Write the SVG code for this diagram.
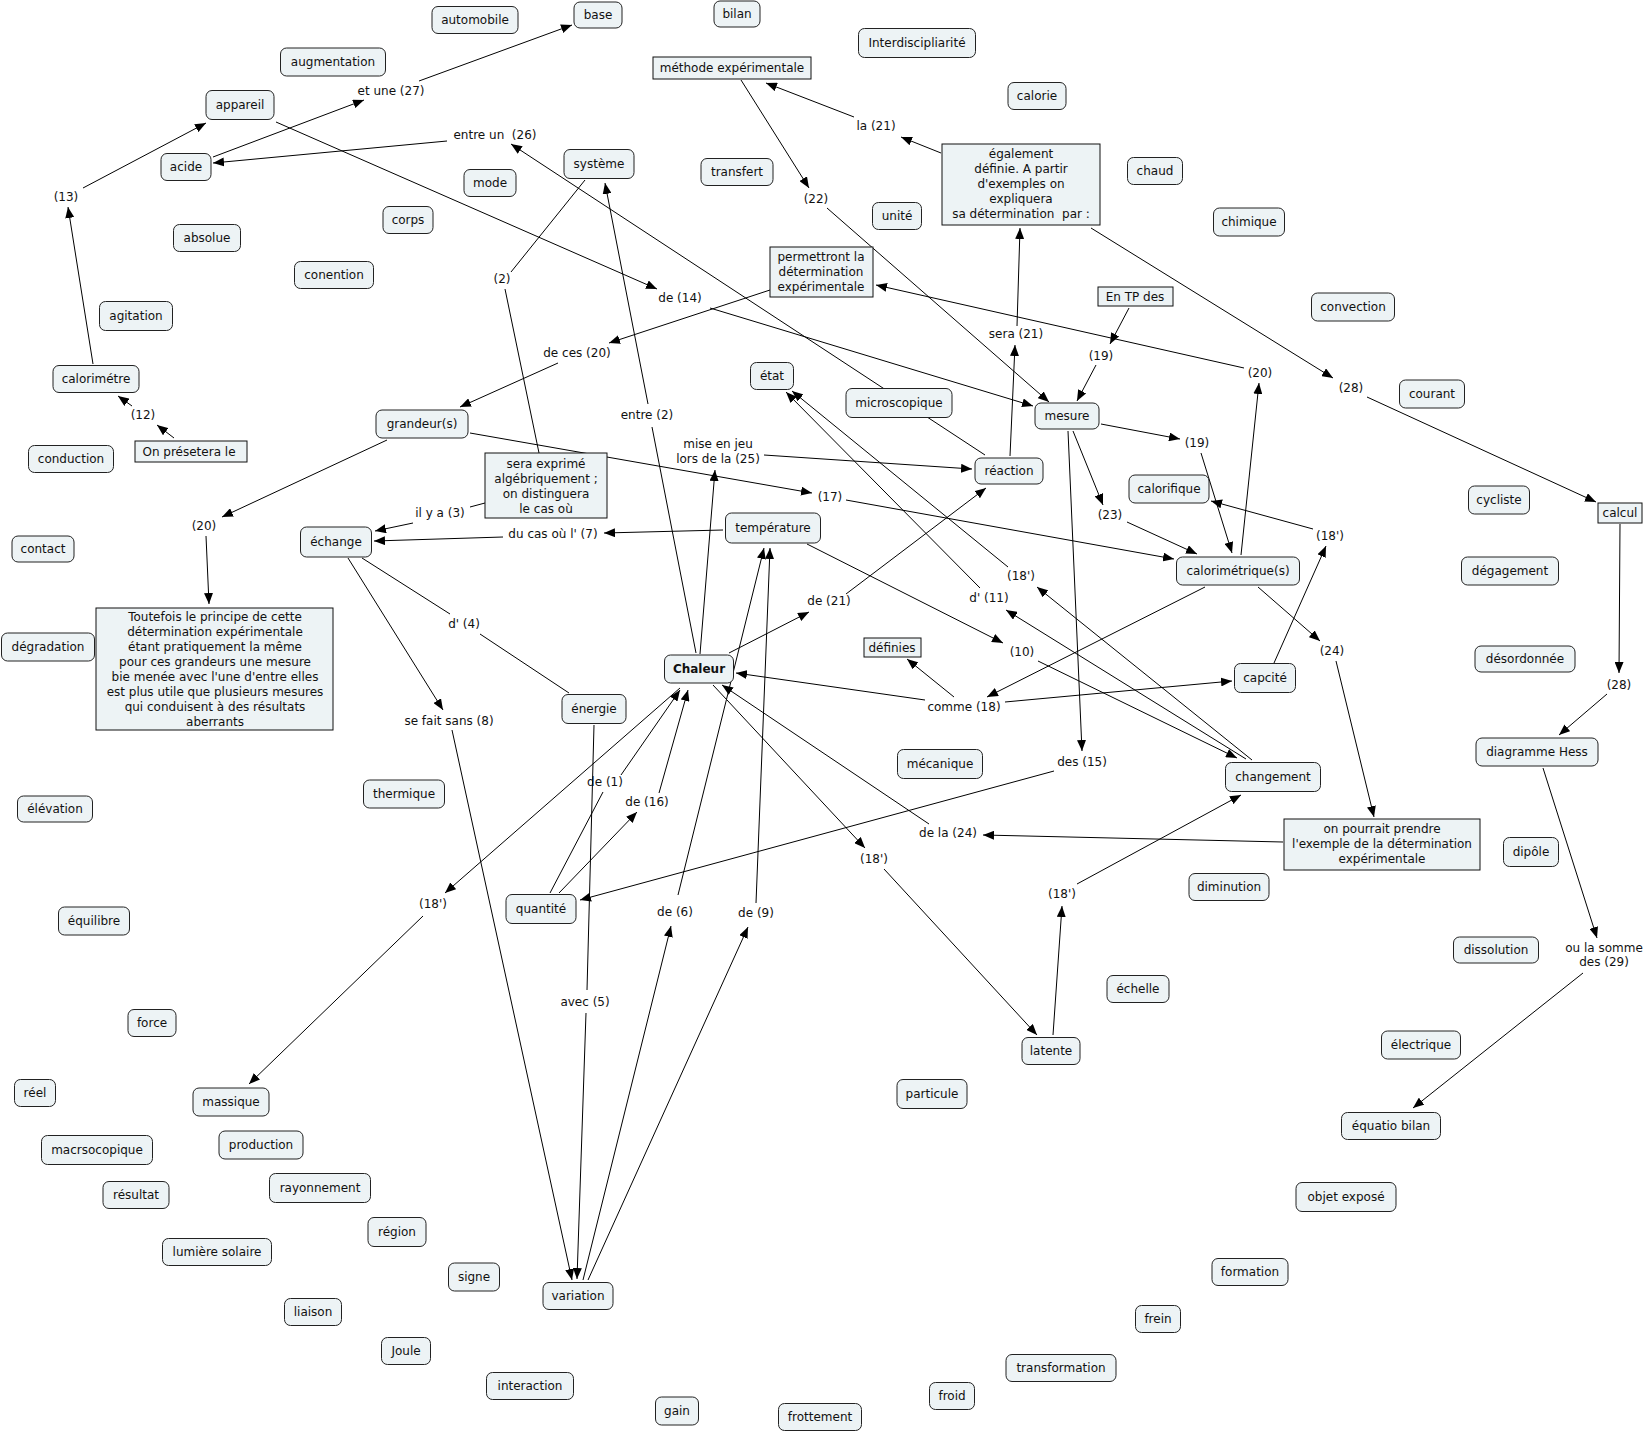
<svg xmlns="http://www.w3.org/2000/svg" width="1647" height="1433" viewBox="0 0 1647 1433">
<style>
text{font-family:"DejaVu Sans","Verdana",sans-serif;font-size:12px;fill:#111;text-anchor:middle;white-space:pre}
.c rect{fill:#edf3f5;stroke:#222;stroke-width:1}
.r rect{fill:#edf3f5;stroke:#111;stroke-width:1}
#edges line{stroke:#000;stroke-width:1}
.b{font-weight:bold}
</style>
<defs>
<marker id="a" markerWidth="11" markerHeight="9" refX="11" refY="4.5" orient="auto" markerUnits="userSpaceOnUse"><path d="M0,0 L11,4.5 L0,9 z" fill="#000"/></marker>
</defs>
<rect width="1647" height="1433" fill="#fff"/>
<g id="edges">
<line x1="213" y1="157" x2="364" y2="100" marker-end="url(#a)"/>
<line x1="419" y1="81" x2="572" y2="25" marker-end="url(#a)"/>
<line x1="93" y1="364" x2="68" y2="207" marker-end="url(#a)"/>
<line x1="83" y1="188" x2="206" y2="123" marker-end="url(#a)"/>
<line x1="276" y1="122" x2="657" y2="289" marker-end="url(#a)"/>
<line x1="710" y1="308" x2="1033" y2="406" marker-end="url(#a)"/>
<line x1="447" y1="141" x2="213" y2="163" marker-end="url(#a)"/>
<line x1="985" y1="455" x2="511" y2="144" marker-end="url(#a)"/>
<line x1="585" y1="180" x2="511" y2="272"/>
<line x1="505" y1="289" x2="539" y2="453"/>
<line x1="696" y1="653" x2="652" y2="427"/>
<line x1="648" y1="404" x2="605" y2="183" marker-end="url(#a)"/>
<line x1="558" y1="363" x2="460" y2="407" marker-end="url(#a)"/>
<line x1="770" y1="290" x2="609" y2="343" marker-end="url(#a)"/>
<line x1="174" y1="438" x2="157" y2="425" marker-end="url(#a)"/>
<line x1="132" y1="406" x2="118" y2="396" marker-end="url(#a)"/>
<line x1="470" y1="433" x2="812" y2="493" marker-end="url(#a)"/>
<line x1="846" y1="500" x2="1174" y2="559" marker-end="url(#a)"/>
<line x1="387" y1="440" x2="222" y2="517" marker-end="url(#a)"/>
<line x1="206" y1="536" x2="209" y2="604" marker-end="url(#a)"/>
<line x1="485" y1="503" x2="470" y2="507"/>
<line x1="413" y1="523" x2="375" y2="531" marker-end="url(#a)"/>
<line x1="723" y1="530" x2="604" y2="533" marker-end="url(#a)"/>
<line x1="503" y1="537" x2="374" y2="541" marker-end="url(#a)"/>
<line x1="362" y1="558" x2="450" y2="614"/>
<line x1="480" y1="634" x2="569" y2="693"/>
<line x1="348" y1="558" x2="443" y2="710" marker-end="url(#a)"/>
<line x1="452" y1="730" x2="572" y2="1280" marker-end="url(#a)"/>
<line x1="594" y1="725" x2="587" y2="990"/>
<line x1="586" y1="1013" x2="577" y2="1279" marker-end="url(#a)"/>
<line x1="700" y1="654" x2="715" y2="470" marker-end="url(#a)"/>
<line x1="764" y1="455" x2="972" y2="469" marker-end="url(#a)"/>
<line x1="729" y1="653" x2="809" y2="612" marker-end="url(#a)"/>
<line x1="846" y1="594" x2="986" y2="488" marker-end="url(#a)"/>
<line x1="1010" y1="456" x2="1015" y2="345" marker-end="url(#a)"/>
<line x1="1017" y1="326" x2="1020" y2="228" marker-end="url(#a)"/>
<line x1="941" y1="153" x2="901" y2="137" marker-end="url(#a)"/>
<line x1="854" y1="117" x2="766" y2="83" marker-end="url(#a)"/>
<line x1="741" y1="80" x2="809" y2="188" marker-end="url(#a)"/>
<line x1="827" y1="208" x2="1049" y2="402" marker-end="url(#a)"/>
<line x1="1091" y1="228" x2="1333" y2="378" marker-end="url(#a)"/>
<line x1="1367" y1="397" x2="1596" y2="502" marker-end="url(#a)"/>
<line x1="1620" y1="524" x2="1619" y2="673" marker-end="url(#a)"/>
<line x1="1607" y1="694" x2="1559" y2="735" marker-end="url(#a)"/>
<line x1="1543" y1="768" x2="1597" y2="938" marker-end="url(#a)"/>
<line x1="1583" y1="973" x2="1413" y2="1108" marker-end="url(#a)"/>
<line x1="1244" y1="368" x2="876" y2="285" marker-end="url(#a)"/>
<line x1="1241" y1="555" x2="1259" y2="383" marker-end="url(#a)"/>
<line x1="1129" y1="308" x2="1110" y2="344" marker-end="url(#a)"/>
<line x1="1096" y1="365" x2="1077" y2="401" marker-end="url(#a)"/>
<line x1="1101" y1="424" x2="1180" y2="439" marker-end="url(#a)"/>
<line x1="1201" y1="453" x2="1232" y2="553" marker-end="url(#a)"/>
<line x1="1073" y1="431" x2="1103" y2="505" marker-end="url(#a)"/>
<line x1="1127" y1="522" x2="1197" y2="554" marker-end="url(#a)"/>
<line x1="1068" y1="431" x2="1082" y2="751" marker-end="url(#a)"/>
<line x1="1054" y1="771" x2="580" y2="900" marker-end="url(#a)"/>
<line x1="1313" y1="529" x2="1211" y2="501" marker-end="url(#a)"/>
<line x1="1274" y1="663" x2="1326" y2="546" marker-end="url(#a)"/>
<line x1="1258" y1="587" x2="1320" y2="641" marker-end="url(#a)"/>
<line x1="1336" y1="661" x2="1374" y2="817" marker-end="url(#a)"/>
<line x1="1283" y1="842" x2="983" y2="835" marker-end="url(#a)"/>
<line x1="929" y1="824" x2="722" y2="685" marker-end="url(#a)"/>
<line x1="1205" y1="587" x2="987" y2="697" marker-end="url(#a)"/>
<line x1="1005" y1="702" x2="1232" y2="681" marker-end="url(#a)"/>
<line x1="954" y1="697" x2="907" y2="659" marker-end="url(#a)"/>
<line x1="925" y1="700" x2="736" y2="673" marker-end="url(#a)"/>
<line x1="807" y1="544" x2="1003" y2="643" marker-end="url(#a)"/>
<line x1="1038" y1="661" x2="1237" y2="758" marker-end="url(#a)"/>
<line x1="1246" y1="759" x2="1006" y2="610" marker-end="url(#a)"/>
<line x1="980" y1="588" x2="786" y2="392" marker-end="url(#a)"/>
<line x1="1252" y1="760" x2="1037" y2="587" marker-end="url(#a)"/>
<line x1="1008" y1="567" x2="792" y2="391" marker-end="url(#a)"/>
<line x1="713" y1="685" x2="865" y2="848" marker-end="url(#a)"/>
<line x1="884" y1="869" x2="1037" y2="1035" marker-end="url(#a)"/>
<line x1="1053" y1="1035" x2="1062" y2="906" marker-end="url(#a)"/>
<line x1="1077" y1="884" x2="1241" y2="795" marker-end="url(#a)"/>
<line x1="680" y1="688" x2="445" y2="893" marker-end="url(#a)"/>
<line x1="423" y1="916" x2="249" y2="1084" marker-end="url(#a)"/>
<line x1="550" y1="893" x2="603" y2="792"/>
<line x1="621" y1="775" x2="680" y2="690" marker-end="url(#a)"/>
<line x1="559" y1="893" x2="637" y2="812" marker-end="url(#a)"/>
<line x1="659" y1="793" x2="688" y2="690" marker-end="url(#a)"/>
<line x1="583" y1="1280" x2="671" y2="926" marker-end="url(#a)"/>
<line x1="678" y1="895" x2="764" y2="548" marker-end="url(#a)"/>
<line x1="588" y1="1280" x2="748" y2="927" marker-end="url(#a)"/>
<line x1="756" y1="903" x2="770" y2="548" marker-end="url(#a)"/>
</g>
<g id="labels">
<text x="391" y="95">et une (27)</text>
<text x="495" y="139">entre un  (26)</text>
<text x="66" y="201">(13)</text>
<text x="143" y="419">(12)</text>
<text x="502" y="283">(2)</text>
<text x="577" y="357">de ces (20)</text>
<text x="647" y="419">entre (2)</text>
<text x="876" y="130">la (21)</text>
<text x="816" y="203">(22)</text>
<text x="680" y="302">de (14)</text>
<text x="1016" y="338">sera (21)</text>
<text x="1101" y="360">(19)</text>
<text x="1197" y="447">(19)</text>
<text x="718" y="448">mise en jeu</text>
<text x="718" y="463">lors de la (25)</text>
<text x="1260" y="377">(20)</text>
<text x="1351" y="392">(28)</text>
<text x="830" y="501">(17)</text>
<text x="440" y="517">il y a (3)</text>
<text x="553" y="538">du cas où l' (7)</text>
<text x="1110" y="519">(23)</text>
<text x="1330" y="540">(18')</text>
<text x="1021" y="580">(18')</text>
<text x="989" y="602">d' (11)</text>
<text x="829" y="605">de (21)</text>
<text x="464" y="628">d' (4)</text>
<text x="1022" y="656">(10)</text>
<text x="1332" y="655">(24)</text>
<text x="1619" y="689">(28)</text>
<text x="964" y="711">comme (18)</text>
<text x="449" y="725">se fait sans (8)</text>
<text x="1082" y="766">des (15)</text>
<text x="605" y="786">de (1)</text>
<text x="647" y="806">de (16)</text>
<text x="948" y="837">de la (24)</text>
<text x="874" y="863">(18')</text>
<text x="1062" y="898">(18')</text>
<text x="433" y="908">(18')</text>
<text x="675" y="916">de (6)</text>
<text x="756" y="917">de (9)</text>
<text x="585" y="1006">avec (5)</text>
<text x="1604" y="952">ou la somme</text>
<text x="1604" y="966">des (29)</text>
<text x="204" y="530">(20)</text>
</g>
<g id="n-methode" class="r"><rect x="653" y="57" width="158" height="22"/><text x="732" y="72">méthode expérimentale</text></g>
<g id="n-egalement" class="r"><rect x="942" y="144" width="158" height="81"/><text x="1021" y="158">également</text><text x="1021" y="173">définie. A partir</text><text x="1021" y="188">d'exemples on</text><text x="1021" y="203">expliquera</text><text x="1021" y="218">sa détermination  par :</text></g>
<g id="n-permettront" class="r"><rect x="770" y="247" width="103" height="50"/><text x="821" y="261">permettront la</text><text x="821" y="276">détermination</text><text x="821" y="291">expérimentale</text></g>
<g id="n-entp" class="r"><rect x="1098" y="287" width="75" height="19"/><text x="1135" y="301">En TP des</text></g>
<g id="n-onpresetera" class="r"><rect x="135" y="441" width="112" height="21"/><text x="189" y="456">On présetera le</text></g>
<g id="n-sera" class="r"><rect x="485" y="453" width="122" height="65"/><text x="546" y="468">sera exprimé</text><text x="546" y="483">algébriquement ;</text><text x="546" y="498">on distinguera</text><text x="546" y="513">le cas où</text></g>
<g id="n-toutefois" class="r"><rect x="96" y="608" width="237" height="122"/><text x="215" y="621">Toutefois le principe de cette</text><text x="215" y="636">détermination expérimentale</text><text x="215" y="651">étant pratiquement la même</text><text x="215" y="666">pour ces grandeurs une mesure</text><text x="215" y="681">bie menée avec l'une d'entre elles</text><text x="215" y="696">est plus utile que plusieurs mesures</text><text x="215" y="711">qui conduisent à des résultats</text><text x="215" y="726">aberrants</text></g>
<g id="n-definies" class="r"><rect x="864" y="638" width="57" height="19"/><text x="892" y="652">définies</text></g>
<g id="n-calcul" class="r"><rect x="1598" y="503" width="44" height="20"/><text x="1620" y="517">calcul</text></g>
<g id="n-onpourrait" class="r"><rect x="1284" y="819" width="196" height="51"/><text x="1382" y="833">on pourrait prendre</text><text x="1382" y="848">l'exemple de la détermination</text><text x="1382" y="863">expérimentale</text></g>
<g id="n-automobile" class="c"><rect x="432" y="6.5" width="86" height="27" rx="6"/><text x="475" y="24">automobile</text></g>
<g id="n-base" class="c"><rect x="574" y="2" width="48" height="26" rx="6"/><text x="598" y="19">base</text></g>
<g id="n-bilan" class="c"><rect x="714" y="1" width="46" height="26" rx="6"/><text x="737" y="18">bilan</text></g>
<g id="n-augmentation" class="c"><rect x="280.5" y="48" width="105" height="28" rx="6"/><text x="333" y="66">augmentation</text></g>
<g id="n-interdisc" class="c"><rect x="858.5" y="28.5" width="117" height="29" rx="6"/><text x="917" y="47">Interdiscipliarité</text></g>
<g id="n-appareil" class="c"><rect x="206" y="90.5" width="68" height="29" rx="6"/><text x="240" y="109">appareil</text></g>
<g id="n-calorie" class="c"><rect x="1008" y="82.5" width="58" height="27" rx="6"/><text x="1037" y="100">calorie</text></g>
<g id="n-acide" class="c"><rect x="161" y="153.5" width="50" height="27" rx="6"/><text x="186" y="171">acide</text></g>
<g id="n-systeme" class="c"><rect x="564" y="149.5" width="70" height="29" rx="6"/><text x="599" y="168">système</text></g>
<g id="n-transfert" class="c"><rect x="701" y="158.5" width="72" height="27" rx="6"/><text x="737" y="176">transfert</text></g>
<g id="n-chaud" class="c"><rect x="1127.5" y="157.5" width="55" height="27" rx="6"/><text x="1155" y="175">chaud</text></g>
<g id="n-mode" class="c"><rect x="464" y="169.5" width="52" height="27" rx="6"/><text x="490" y="187">mode</text></g>
<g id="n-corps" class="c"><rect x="383" y="206.5" width="50" height="27" rx="6"/><text x="408" y="224">corps</text></g>
<g id="n-unite" class="c"><rect x="872.5" y="202.5" width="49" height="27" rx="6"/><text x="897" y="220">unité</text></g>
<g id="n-chimique" class="c"><rect x="1213.5" y="208" width="71" height="28" rx="6"/><text x="1249" y="226">chimique</text></g>
<g id="n-absolue" class="c"><rect x="173.5" y="224.5" width="67" height="27" rx="6"/><text x="207" y="242">absolue</text></g>
<g id="n-conention" class="c"><rect x="294.5" y="261.5" width="79" height="27" rx="6"/><text x="334" y="279">conention</text></g>
<g id="n-convection" class="c"><rect x="1311.5" y="293" width="83" height="28" rx="6"/><text x="1353" y="311">convection</text></g>
<g id="n-agitation" class="c"><rect x="99.5" y="301.5" width="73" height="29" rx="6"/><text x="136" y="320">agitation</text></g>
<g id="n-etat" class="c"><rect x="750.5" y="362.5" width="43" height="27" rx="6"/><text x="772" y="380">état</text></g>
<g id="n-calorimetre" class="c"><rect x="53" y="365.5" width="86" height="27" rx="6"/><text x="96" y="383">calorimétre</text></g>
<g id="n-microscopique" class="c"><rect x="846" y="388.5" width="106" height="29" rx="6"/><text x="899" y="407">microscopique</text></g>
<g id="n-courant" class="c"><rect x="1399.5" y="380" width="65" height="28" rx="6"/><text x="1432" y="398">courant</text></g>
<g id="n-mesure" class="c"><rect x="1035" y="403" width="64" height="26" rx="6"/><text x="1067" y="420">mesure</text></g>
<g id="n-grandeurs" class="c"><rect x="376" y="410" width="92" height="28" rx="6"/><text x="422" y="428">grandeur(s)</text></g>
<g id="n-conduction" class="c"><rect x="28.5" y="445.5" width="85" height="27" rx="6"/><text x="71" y="463">conduction</text></g>
<g id="n-reaction" class="c"><rect x="975" y="458" width="68" height="26" rx="6"/><text x="1009" y="475">réaction</text></g>
<g id="n-calorifique" class="c"><rect x="1129" y="475" width="80" height="28" rx="6"/><text x="1169" y="493">calorifique</text></g>
<g id="n-cycliste" class="c"><rect x="1468.5" y="486" width="61" height="28" rx="6"/><text x="1499" y="504">cycliste</text></g>
<g id="n-temperature" class="c"><rect x="725.5" y="513" width="95" height="30" rx="6"/><text x="773" y="532">température</text></g>
<g id="n-echange" class="c"><rect x="300.5" y="527" width="71" height="30" rx="6"/><text x="336" y="546">échange</text></g>
<g id="n-contact" class="c"><rect x="12" y="536" width="62" height="26" rx="6"/><text x="43" y="553">contact</text></g>
<g id="n-calorimetriques" class="c"><rect x="1176.5" y="557" width="123" height="28" rx="6"/><text x="1238" y="575">calorimétrique(s)</text></g>
<g id="n-degagement" class="c"><rect x="1461.5" y="557" width="97" height="28" rx="6"/><text x="1510" y="575">dégagement</text></g>
<g id="n-degradation" class="c"><rect x="1.5" y="633" width="93" height="28" rx="6"/><text x="48" y="651">dégradation</text></g>
<g id="n-desordonnee" class="c"><rect x="1475" y="646" width="100" height="26" rx="6"/><text x="1525" y="663">désordonnée</text></g>
<g id="n-chaleur" class="c"><rect x="664.5" y="655" width="69" height="28" rx="6"/><text class="b" x="699" y="673">Chaleur</text></g>
<g id="n-capcite" class="c"><rect x="1234.5" y="663.5" width="61" height="29" rx="6"/><text x="1265" y="682">capcité</text></g>
<g id="n-energie" class="c"><rect x="562" y="694.5" width="64" height="29" rx="6"/><text x="594" y="713">énergie</text></g>
<g id="n-hess" class="c"><rect x="1476" y="738" width="122" height="28" rx="6"/><text x="1537" y="756">diagramme Hess</text></g>
<g id="n-mecanique" class="c"><rect x="897.5" y="749.5" width="85" height="29" rx="6"/><text x="940" y="768">mécanique</text></g>
<g id="n-changement" class="c"><rect x="1225.5" y="762.5" width="95" height="29" rx="6"/><text x="1273" y="781">changement</text></g>
<g id="n-thermique" class="c"><rect x="363.5" y="780" width="81" height="28" rx="6"/><text x="404" y="798">thermique</text></g>
<g id="n-elevation" class="c"><rect x="17.5" y="796" width="75" height="26" rx="6"/><text x="55" y="813">élévation</text></g>
<g id="n-dipole" class="c"><rect x="1503.5" y="837.5" width="55" height="29" rx="6"/><text x="1531" y="856">dipôle</text></g>
<g id="n-diminution" class="c"><rect x="1189" y="873.5" width="80" height="27" rx="6"/><text x="1229" y="891">diminution</text></g>
<g id="n-quantite" class="c"><rect x="506" y="894.5" width="70" height="29" rx="6"/><text x="541" y="913">quantité</text></g>
<g id="n-equilibre" class="c"><rect x="58.5" y="907" width="71" height="28" rx="6"/><text x="94" y="925">équilibre</text></g>
<g id="n-dissolution" class="c"><rect x="1453.5" y="937" width="85" height="26" rx="6"/><text x="1496" y="954">dissolution</text></g>
<g id="n-echelle" class="c"><rect x="1107" y="975.5" width="62" height="27" rx="6"/><text x="1138" y="993">échelle</text></g>
<g id="n-force" class="c"><rect x="128" y="1009.5" width="48" height="27" rx="6"/><text x="152" y="1027">force</text></g>
<g id="n-electrique" class="c"><rect x="1381.5" y="1031" width="79" height="28" rx="6"/><text x="1421" y="1049">électrique</text></g>
<g id="n-latente" class="c"><rect x="1022" y="1037.5" width="58" height="27" rx="6"/><text x="1051" y="1055">latente</text></g>
<g id="n-reel" class="c"><rect x="14.5" y="1079.5" width="41" height="27" rx="6"/><text x="35" y="1097">réel</text></g>
<g id="n-particule" class="c"><rect x="897" y="1079.5" width="70" height="29" rx="6"/><text x="932" y="1098">particule</text></g>
<g id="n-massique" class="c"><rect x="193" y="1088" width="76" height="28" rx="6"/><text x="231" y="1106">massique</text></g>
<g id="n-equatio" class="c"><rect x="1341.5" y="1112.5" width="99" height="27" rx="6"/><text x="1391" y="1130">équatio bilan</text></g>
<g id="n-production" class="c"><rect x="219" y="1131" width="84" height="28" rx="6"/><text x="261" y="1149">production</text></g>
<g id="n-macro" class="c"><rect x="41.5" y="1135.5" width="111" height="29" rx="6"/><text x="97" y="1154">macrsocopique</text></g>
<g id="n-rayonnement" class="c"><rect x="269.5" y="1173.5" width="101" height="29" rx="6"/><text x="320" y="1192">rayonnement</text></g>
<g id="n-resultat" class="c"><rect x="103" y="1181.5" width="66" height="27" rx="6"/><text x="136" y="1199">résultat</text></g>
<g id="n-objet" class="c"><rect x="1296" y="1182.5" width="100" height="29" rx="6"/><text x="1346" y="1201">objet exposé</text></g>
<g id="n-region" class="c"><rect x="368" y="1217.5" width="58" height="29" rx="6"/><text x="397" y="1236">région</text></g>
<g id="n-lumiere" class="c"><rect x="162.5" y="1238.5" width="109" height="27" rx="6"/><text x="217" y="1256">lumière solaire</text></g>
<g id="n-formation" class="c"><rect x="1212" y="1258.5" width="76" height="27" rx="6"/><text x="1250" y="1276">formation</text></g>
<g id="n-signe" class="c"><rect x="448.5" y="1263" width="51" height="28" rx="6"/><text x="474" y="1281">signe</text></g>
<g id="n-variation" class="c"><rect x="543" y="1282.5" width="70" height="27" rx="6"/><text x="578" y="1300">variation</text></g>
<g id="n-liaison" class="c"><rect x="284.5" y="1298.5" width="57" height="27" rx="6"/><text x="313" y="1316">liaison</text></g>
<g id="n-frein" class="c"><rect x="1135.5" y="1305.5" width="45" height="27" rx="6"/><text x="1158" y="1323">frein</text></g>
<g id="n-joule" class="c"><rect x="381.5" y="1337.5" width="49" height="27" rx="6"/><text x="406" y="1355">Joule</text></g>
<g id="n-transformation" class="c"><rect x="1006" y="1354.5" width="110" height="27" rx="6"/><text x="1061" y="1372">transformation</text></g>
<g id="n-interaction" class="c"><rect x="486.5" y="1372.5" width="87" height="27" rx="6"/><text x="530" y="1390">interaction</text></g>
<g id="n-froid" class="c"><rect x="929.5" y="1382.5" width="45" height="27" rx="6"/><text x="952" y="1400">froid</text></g>
<g id="n-gain" class="c"><rect x="655.5" y="1397" width="43" height="28" rx="6"/><text x="677" y="1415">gain</text></g>
<g id="n-frottement" class="c"><rect x="778.5" y="1403.5" width="83" height="27" rx="6"/><text x="820" y="1421">frottement</text></g>
</svg>
